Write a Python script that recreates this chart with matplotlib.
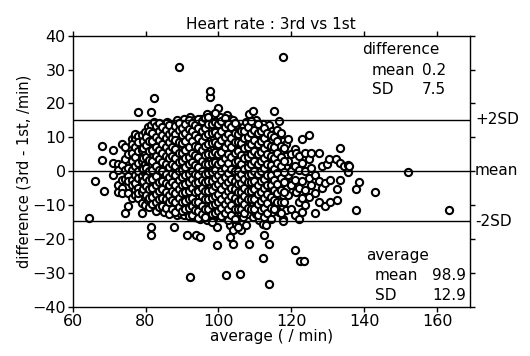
import numpy as np
import matplotlib
matplotlib.use('Agg')
from matplotlib import pyplot as plt
from matplotlib import transforms

# heart rate, 3rd vs 1st measurement: average of the two and their difference
# points grouped by average (/min); one list of differences per group
column_avg = [64.5, 66.1, 68.1, 68.7, 71.2, 72.4, 73.5, 74.4, 75.3, 76.2,
              77.1, 78.0, 78.9, 79.8, 80.6, 81.5, 82.4, 83.3, 84.2, 85.1,
              86.0, 86.9, 87.8, 88.7, 89.2, 89.6, 90.5, 91.4, 92.3, 93.2,
              93.9, 94.1, 95.0, 95.9, 96.8, 97.7, 98.6, 99.5, 100.0, 100.4,
              101.3, 102.0, 102.2, 103.1, 104.0, 104.9, 105.8, 106.2, 106.7, 107.6,
              108.3, 108.5, 109.4, 110.3, 111.2, 112.1, 112.6, 113.0, 113.9, 114.8,
              115.1, 115.7, 116.7, 117.6, 117.7, 118.5, 119.0, 120.0, 120.9, 121.3,
              122.0, 122.4, 123.0, 123.4, 123.8, 124.7, 125.5, 126.4, 127.7, 128.3,
              129.1, 129.8, 130.4, 130.7, 132.2, 132.4, 132.5, 133.2, 133.4, 134.3,
              135.4, 135.8, 137.6, 138.6, 143.0, 152.0, 163.2]
column_diff = [
    [-13.7], [-3.0], [7.3, 3.3], [-5.7],
    [6.3, 2.5, -1.2],
    [2.0, -4.2, -6.0, 0.5],
    [1.9, -2.5, -4.9, -6.4, 8.0],
    [7.1, 0.4, -2.2, -12.3, 3.5],
    [-1.5, -3.0, 1.0, -10.3, 5.0, -6.5],
    [9.5, 8.0, 5.5, 3.0, 0.5, -2.5, -4.0, -8.0],
    [9.8, 7.0, 4.2, 1.5, -1.0, -3.5, -5.5, -7.0, 11.0],
    [17.6, 10.5, 8.5, 6.0, 2.5, 0.0, -2.0, -5.0, -8.0, -6.5],
    [10.6, 6.2, 4.0, 1.0, -1.5, -3.0, -6.0, -9.5, -12.3, 3.0],
    [11.5, 8.0, 5.0, 2.0, -0.5, -4.0, -7.5, -10.0],
    [11.2, 13.0, 9.0, 6.5, 3.0, 0.5, -2.5, -5.5, -8.5, 1.5],
    [17.6, 13.7, 10.0, 7.5, 4.5, 1.5, -1.0, -4.0, -6.5, -9.0, -16.5, -18.7],
    [14.5, 12.0, 8.5, 6.0, 3.0, 0.0, -3.0, -5.5, -8.0, -10.5, 21.7],
    [13.0, 10.5, 8.0, 5.0, 2.0, -1.0, -2.0, -4.5, -7.0, -9.5, 11.5],
    [12.5, 9.5, 7.0, 4.5, 1.5, -1.5, -4.0, -6.0, -8.5, -11.0, 14.0],
    [13.5, 11.0, 8.5, 6.0, 3.5, 1.0, -2.0, -4.5, -7.0, -9.0, -12.0],
    [12.0, 10.0, 7.5, 5.0, 2.5, -0.5, -3.0, -5.5, -8.0, -10.5, 14.5],
    [13.0, 11.0, 9.0, 6.5, 3.5, 0.5, -1.5, -4.0, -6.5, -9.5, -11.5],
    [14.0, 12.0, 8.0, 5.5, 3.0, 1.0, -2.5, -5.0, -7.5, -10.0, -16.5],
    [15.0, 10.5, 7.5, 4.5, 2.0, -0.5, -3.5, -6.0, -8.5, -11.0, -13.0],
    [30.6],
    [13.5, 11.5, 9.0, 6.5, 3.5, 1.0, -1.5, -4.5, -7.0, -9.5, -12.5],
    [15.5, 12.5, 10.0, 7.5, 4.5, 2.0, -0.5, -3.0, -5.5, -8.0, -10.5, -13.0],
    [14.0, 11.0, 8.5, 5.5, 3.0, 0.5, -2.0, -4.5, -7.0, -9.5, -12.0, -18.7],
    [16.0, 13.0, 10.5, 7.0, 4.5, 1.5, -1.0, -3.5, -6.5, -9.0, -11.5, -31.2],
    [15.0, 12.0, 9.5, 6.0, 3.5, 0.5, -2.5, -5.0, -7.5, -10.0, -13.5],
    [-18.7],
    [14.5, 11.5, 8.5, 5.5, 2.5, 0.0, -2.0, -4.5, -8.0, -10.5, -12.5, 13.0],
    [15.5, 13.0, 10.0, 7.5, 4.0, 1.5, -1.5, -3.5, -6.0, -9.0, -11.0, -14.0, -19.5],
    [14.0, 11.0, 8.0, 5.5, 3.0, 0.5, -2.5, -5.0, -7.5, -10.0, -13.0],
    [17.0, 12.5, 9.5, 6.5, 4.0, 1.0, -1.5, -4.0, -6.5, -9.0, -12.0, -14.5],
    [22.0, 23.8, 15.0, 12.0, 9.0, 6.0, 3.0, 0.5, -2.0, -5.0, -7.5, -10.5, -13.0],
    [16.5, 13.5, 10.5, 7.5, 4.5, 2.0, -1.0, -3.5, -6.0, -8.5, -11.5, -14.0],
    [15.0, 12.0, 9.0, 6.5, 3.5, 0.0, -2.5, -5.5, -8.0, -10.5, -13.0, -21.8, -16.5],
    [18.6],
    [16.0, 13.0, 10.5, 7.0, 4.0, 1.5, -1.5, -4.0, -7.0, -9.5, -12.0],
    [14.5, 11.5, 8.0, 5.0, 2.5, -0.5, -3.0, -5.5, -8.5, -11.0, -13.5],
    [-30.5, -13.0],
    [16.5, 12.5, 9.5, 6.5, 3.5, 1.0, -2.0, -4.5, -7.0, -10.0],
    [15.5, 11.0, 8.0, 5.5, 2.0, -1.0, -3.5, -6.0, -8.5, -11.5, -16.0, -19.5],
    [15.0, 12.5, 10.0, 6.5, 4.0, 1.5, -1.5, -4.0, -6.5, -9.5, -17.2, -21.6],
    [13.5, 9.0, 7.5, 5.0, 2.5, -0.5, -3.0, -5.5, -8.0, -10.5, -15.5],
    [12.0, 10.0, 7.0, 4.0, 1.0, -2.0, -4.5, -7.0, -9.5, -12.0, -30.4],
    [-17.2],
    [13.0, 9.5, 6.0, 3.5, 0.5, -2.5, -5.0, -7.5, -10.0, -13.5],
    [14.5, 11.0, 8.0, 5.0, 2.0, -1.0, -3.5, -6.0, -8.5, -11.0, -16.0],
    [-21.6],
    [17.0, 12.0, 9.0, 6.5, 3.5, 0.5, -2.0, -4.5, -7.0, -9.5, -12.5],
    [17.8, 13.5, 10.5, 7.5, 4.0, 1.0, -1.5, -4.0, -7.0, -10.0, -13.5],
    [15.0, 12.0, 9.0, 6.0, 2.5, -0.5, -3.0, -6.0, -9.0, -12.5],
    [13.0, 10.0, 7.0, 4.0, 1.5, -1.5, -4.5, -7.5, -10.5, -14.5],
    [14.0, 11.0, 8.0, 5.0, 2.0, -1.0, -4.0, -6.5, -9.5, -12.0, -15.5, -25.6],
    [-18.7],
    [12.0, 9.5, 6.5, 3.0, 0.0, -3.0, -5.5, -8.0, -11.0, -14.0, -16.0],
    [13.5, 10.5, 7.5, 4.5, 1.5, -2.0, -5.0, -7.5, -10.0, -13.0, -21.6, -33.4],
    [12.0, 9.0, 6.0, 3.0, 0.5, -2.5, -6.0, -9.0, -12.0],
    [17.9],
    [11.5, 8.0, 5.0, 2.0, -1.0, -4.0, -7.0, -10.0],
    [14.8, 10.5, 7.0, 3.5, 0.5, -2.5, -5.5, -8.0, -12.0],
    [9.0, 6.0, 2.5, -0.5, -3.5, -7.0, -14.0, -14.8],
    [33.8],
    [8.0, 4.5, 1.5, -2.0, -5.0, -11.5],
    [9.5, 3.0, -1.0, -7.0],
    [5.0, 0.0, -4.0, -11.0],
    [6.5, 1.5, -2.5, -13.0, -23.3],
    [5.4, -6.0],
    [4.5, 0.5, -5.0, -9.0, -14.0],
    [-26.4],
    [9.5, 2.5, -3.0, -8.0, -12.0],
    [-26.4],
    [5.5, 0.0, -5.5, -10.0],
    [10.8, 3.5, -2.0, -7.5],
    [5.4, 1.0, -4.0],
    [-1.0, -6.5, -12.3],
    [5.4, -3.0, -9.0],
    [1.5, -5.0],
    [-10.2, -3.5],
    [2.0], [3.7], [-9.1, -2.5], [3.7], [-8.4], [-5.3], [2.4, -2.5], [6.8], [1.5],
    [-0.3, 1.8], [1.4], [-5.3, -11.5], [-3.3], [-6.2], [-0.1], [-11.3],
]

# the crowded middle of the cloud, between the groups above
middle_avg = [79.4, 80.2, 81.0, 81.9, 82.8, 83.7, 84.6, 85.5, 86.4, 87.3,
              88.2, 89.1, 90.0, 90.9, 91.8, 92.7, 93.6, 94.5, 95.4, 96.3,
              97.2, 98.1, 99.0, 99.9, 100.8, 101.7, 102.6, 103.5, 104.4, 105.3,
              106.2, 107.1, 108.0, 108.9, 109.8, 110.7, 111.6, 112.5, 113.4, 114.3,
              115.2, 116.1, 117.1, 118.0]
middle_diff = [
    [9.0, 6.8, 3.8, 0.8, -2.8, -5.2],
    [10.2, 7.8, 4.2, 1.0, -1.8, -4.5, -7.0],
    [12.0, 9.0, 6.0, 3.2, 0.2, -2.5, -5.2, -7.8, -10.5],
    [11.2, 8.8, 6.2, 3.0, 0.5, -2.2, -5.0, -7.5, -9.8],
    [13.2, 10.0, 7.2, 4.5, 1.5, -1.5, -4.2, -6.8, -9.2, -11.8],
    [14.2, 11.8, 9.2, 6.2, 3.5, 0.5, -3.2, -5.8, -8.2, -10.5],
    [13.0, 10.8, 8.0, 5.5, 2.8, 0.0, -2.8, -5.2, -7.8, -10.2],
    [12.2, 9.8, 7.0, 4.5, 2.0, -0.8, -3.5, -6.0, -8.2, -10.8],
    [13.5, 11.0, 8.5, 6.0, 3.8, 1.2, -1.8, -4.2, -7.0, -9.2, -12.5],
    [12.0, 9.8, 7.2, 4.5, 2.0, -0.5, -3.2, -5.8, -8.5, -11.0],
    [13.2, 11.0, 9.2, 6.5, 4.0, 1.5, -1.2, -4.0, -6.5, -9.2, -12.0],
    [14.2, 12.2, 8.5, 5.5, 2.8, 0.2, -2.5, -5.2, -8.0, -10.5],
    [12.8, 10.8, 8.2, 5.5, 3.0, 0.5, -1.8, -4.0, -6.5, -9.2, -11.8],
    [14.0, 11.2, 9.0, 6.2, 3.8, 1.2, -1.2, -3.8, -6.2, -8.8, -11.2],
    [15.2, 12.5, 10.0, 7.0, 4.2, 2.0, -0.8, -3.2, -5.8, -8.2, -10.8, -13.2],
    [14.2, 11.8, 8.8, 5.5, 2.8, 0.0, -2.2, -4.8, -7.8, -10.2, -12.8],
    [13.5, 10.8, 7.5, 4.8, 1.8, -0.8, -3.5, -6.2, -9.0, -11.5],
    [15.5, 12.8, 9.8, 7.0, 4.2, 1.2, -1.2, -3.2, -5.8, -9.2, -11.8, -13.8],
    [14.8, 11.8, 9.0, 6.2, 3.0, 0.2, -2.5, -4.8, -7.2, -10.2, -12.5],
    [15.8, 12.8, 10.5, 7.5, 4.8, 2.2, -0.8, -3.2, -5.8, -8.2, -11.0, -13.5],
    [16.0, 13.8, 11.0, 8.0, 5.0, 2.2, -0.5, -3.0, -5.8, -8.2, -11.2],
    [14.0, 11.2, 8.2, 5.2, 2.5, -0.2, -2.8, -5.5, -7.8, -10.0, -12.5, -15.0],
    [17.2, 14.5, 11.5, 8.5, 5.8, 2.8, 0.5, -2.0, -4.5, -7.2, -9.8, -12.2],
    [13.8, 10.8, 8.0, 5.0, 2.2, -1.2, -3.8, -6.8, -9.2, -11.8],
    [14.8, 12.0, 9.2, 5.8, 2.8, 0.2, -2.5, -5.2, -8.2, -10.8, -13.2],
    [15.8, 13.0, 10.2, 7.2, 3.8, 1.0, -1.8, -4.2, -7.0, -9.8, -12.2],
    [14.0, 11.0, 8.2, 5.0, 2.5, -0.5, -3.2, -5.8, -8.5, -11.2, -14.5],
    [13.0, 9.8, 7.0, 4.2, 0.8, -2.2, -4.8, -7.2, -10.0, -12.8],
    [14.2, 11.2, 8.5, 5.5, 2.8, 0.2, -2.8, -5.2, -7.8, -11.0, -14.0],
    [11.0, 8.5, 6.0, 3.0, 0.2, -1.8, -3.8, -6.2, -8.8, -11.2, -16.5],
    [11.8, 8.2, 4.8, 2.2, -0.8, -3.5, -6.0, -8.5, -11.0],
    [12.0, 9.8, 6.8, 3.8, 0.8, -2.2, -4.8, -7.2, -9.8, -12.2],
    [13.0, 10.0, 7.0, 4.2, 1.2, -1.2, -3.2, -5.8, -8.2, -10.8],
    [14.8, 11.2, 8.0, 5.2, 2.2, -0.8, -3.2, -5.8, -8.2, -11.2],
    [12.2, 9.2, 6.0, 3.0, 0.0, -2.8, -5.2, -8.2, -11.2],
    [14.0, 11.2, 8.0, 5.0, 2.0, -0.8, -4.0, -6.8, -9.8, -12.8],
    [12.0, 8.8, 5.8, 3.0, 0.2, -2.8, -6.0, -8.8, -11.5],
    [12.8, 9.8, 6.8, 3.8, 1.0, -2.2, -5.0, -8.0, -10.8, -13.5],
    [11.2, 8.0, 5.2, 2.2, -1.0, -4.0, -6.8, -9.5, -12.2],
    [10.8, 7.5, 4.5, 1.8, -1.2, -4.2, -7.5, -10.8, -14.2],
    [10.0, 7.2, 4.0, 0.8, -2.5, -5.5, -8.5, -11.2],
    [12.2, 8.8, 5.5, 2.5, -0.5, -3.8, -6.5, -9.2],
    [11.2, 7.5, 4.2, 1.5, -2.0, -5.5, -9.0, -12.2],
    [6.8, 3.0, -0.2, -3.2, -6.2, -9.0],
]

diff_mean, diff_sd = 0.2, 7.5
avg_mean, avg_sd = 98.9, 12.9

groups_avg = column_avg + middle_avg
groups_diff = column_diff + middle_diff
avg = np.concatenate([[a] * len(d) for a, d in zip(groups_avg, groups_diff)])
diff = np.concatenate(groups_diff)

plt.rcParams['font.family'] = 'DejaVu Sans'
plt.rcParams['font.size'] = 11

fig = plt.figure(figsize=(5.3, 3.56), dpi=100)
ax = fig.add_axes([0.137, 0.138, 0.750, 0.762])

ax.plot(avg, diff, linestyle='none', marker='o', markersize=5.2,
        markerfacecolor='white', markeredgecolor='black', markeredgewidth=1.5)

# mean and +-2SD lines
limits = [diff_mean + 2 * diff_sd, diff_mean, diff_mean - 2 * diff_sd]
for y in limits:
    ax.axhline(y, color='black', linewidth=1.0, zorder=3)

trans = transforms.blended_transform_factory(ax.transAxes, ax.transData)
for y, lab in zip(limits, ['+2SD', 'mean', '-2SD']):
    ax.text(1.012, y, lab, transform=trans, ha='left', va='center', fontsize=11)

ax.set_xlim(60, 169)
ax.set_ylim(-40, 40)
ax.set_xticks(np.arange(60, 161, 20))
ax.set_yticks(np.arange(-40, 41, 10))
ax.tick_params(direction='out', length=3.5, width=1.0, labelsize=11.5,
               right=True, top=True, pad=1.5)
for s in ax.spines.values():
    s.set_linewidth(1.0)

ax.text(139.4, 35.8, 'difference', ha='left', va='center')
ax.text(142.0, 29.6, 'mean', ha='left', va='center')
ax.text(162.3, 29.6, f'{diff_mean:.1f}', ha='right', va='center')
ax.text(142.0, 24.0, 'SD', ha='left', va='center')
ax.text(162.3, 24.0, f'{diff_sd:.1f}', ha='right', va='center')

ax.text(140.5, -24.9, 'average', ha='left', va='center')
ax.text(142.8, -30.8, 'mean', ha='left', va='center')
ax.text(168.0, -30.8, f'{avg_mean:.1f}', ha='right', va='center')
ax.text(142.8, -36.6, 'SD', ha='left', va='center')
ax.text(168.0, -36.6, f'{avg_sd:.1f}', ha='right', va='center')

ax.set_title('Heart rate : 3rd vs 1st', fontsize=11, pad=5)
ax.set_xlabel('average ( / min)', fontsize=11, labelpad=0)
ax.set_ylabel('difference (3rd - 1st, /min)', fontsize=10.5, labelpad=0)

fig.savefig('out.png', dpi=100)
